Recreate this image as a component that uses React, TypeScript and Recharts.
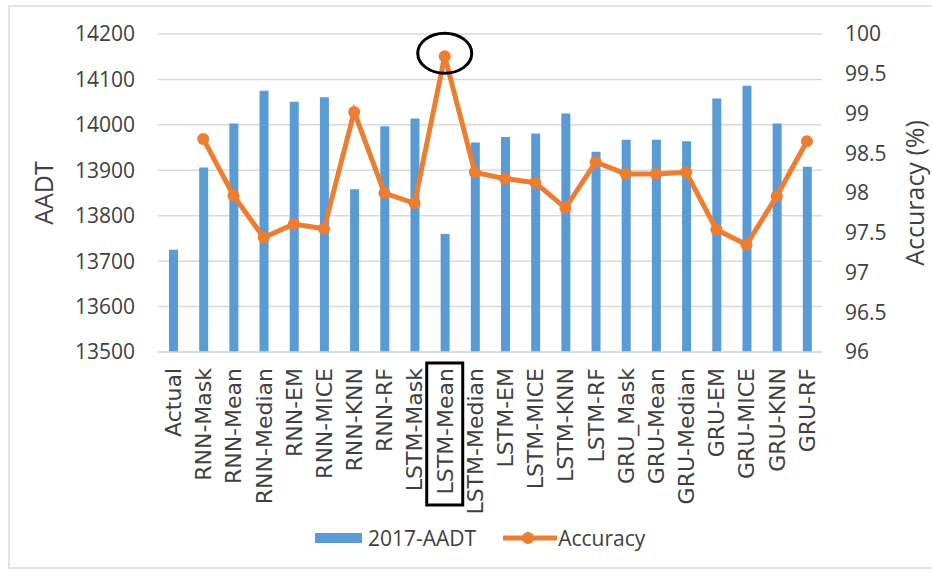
import { Bar, CartesianGrid, ComposedChart, Legend, Line, ReferenceDot, XAxis, YAxis } from 'recharts';

const categories = [
    'Actual', 'RNN-Mask', 'RNN-Mean', 'RNN-Median', 'RNN-EM', 'RNN-MICE', 'RNN-KNN', 'RNN-RF',
    'LSTM-Mask', 'LSTM-Mean', 'LSTM-Median', 'LSTM-EM', 'LSTM-MICE', 'LSTM-KNN', 'LSTM-RF',
    'GRU_Mask', 'GRU-Mean', 'GRU-Median', 'GRU-EM', 'GRU-MICE', 'GRU-KNN', 'GRU-RF',
];
const aadt = [
    13725, 13906, 14003, 14075, 14051, 14061, 13858, 13997, 14014, 13760, 13961,
    13973, 13981, 14025, 13941, 13967, 13967, 13964, 14058, 14086, 14003, 13908,
];
const accuracy = [
    null, 98.68, 97.97, 97.44, 97.61, 97.55, 99.02, 98.0, 97.87, 99.72, 98.26,
    98.18, 98.13, 97.81, 98.39, 98.24, 98.24, 98.26, 97.54, 97.35, 97.96, 98.65,
];
const leftTicks = [13500, 13600, 13700, 13800, 13900, 14000, 14100, 14200];
const rightTicks = [96, 96.5, 97, 97.5, 98, 98.5, 99, 99.5, 100];

const highlighted = 'LSTM-Mean';

const data = categories.map((name, i) => ({ name, aadt: aadt[i], accuracy: accuracy[i] }));

const textColor = '#404040';
const numFont = { fontFamily: 'Open Sans', fontSize: 21, fill: textColor };

// rotated category labels, the highlighted one gets a box around it
function XTick(props: any) {
    const { x, y, payload } = props;
    return (
        <g transform={`translate(${x},${y})`}>
            <text
                transform="rotate(-90)"
                textAnchor="end"
                dy="0.36em"
                fontFamily="DejaVu Sans"
                fontSize={22}
                fill={textColor}
            >
                {payload.value}
            </text>
            {payload.value === highlighted && (
                <rect x={-18} y={-5} width={36} height={142} fill="none" stroke="#000" strokeWidth={3} />
            )}
        </g>
    );
}

function LegendContent() {
    return (
        <div style={{ height: 24, display: 'flex', alignItems: 'center', fontFamily: 'Open Sans', fontSize: 21, color: textColor }}>
            <span style={{ width: 47, height: 10, background: '#5B9BD5', display: 'inline-block' }} />
            <span style={{ marginLeft: 6 }}>2017-AADT</span>
            <svg width={54} height={14} style={{ marginLeft: 27 }}>
                <line x1={0} y1={7} x2={54} y2={7} stroke="#ED7D31" strokeWidth={5} />
                <circle cx={25} cy={7} r={6} fill="#ED7D31" />
            </svg>
            <span style={{ marginLeft: 1 }}>Accuracy</span>
        </div>
    );
}

export default function App() {
    return (
        <div style={{ position: 'absolute', left: 0, top: 0, width: 932, height: 573, background: '#fff' }}>
            <div
                style={{
                    position: 'absolute',
                    left: 8,
                    top: 5,
                    width: 940,
                    height: 564,
                    boxSizing: 'border-box',
                    border: '2px solid #e3e3e3',
                }}
            />
            <div style={{ position: 'absolute', left: 0, top: 0 }}>
                <ComposedChart width={932} height={573} data={data} margin={{ top: 34, right: 0, left: 0, bottom: 23 }}>
                    <CartesianGrid yAxisId="left" vertical={false} stroke="#d9d9d9" strokeWidth={1.5} />
                    <XAxis
                        dataKey="name"
                        interval={0}
                        height={174}
                        tickSize={0}
                        tickMargin={16}
                        axisLine={{ stroke: '#d9d9d9', strokeWidth: 1.5 }}
                        tickLine={false}
                        tick={<XTick />}
                    />
                    <YAxis
                        yAxisId="left"
                        width={158}
                        domain={[13500, 14200]}
                        ticks={leftTicks}
                        axisLine={false}
                        tickLine={false}
                        tickSize={0}
                        tickMargin={23}
                        tick={numFont}
                        label={{
                            content: (p: any) => {
                                const vb = p.viewBox;
                                const cy = vb.y + vb.height / 2;
                                return (
                                    <text x={44} y={cy} transform={`rotate(-90, 44, ${cy})`} textAnchor="middle" dy="0.36em" fontFamily="Open Sans" fontSize={25} fill={textColor}>
                                        AADT
                                    </text>
                                );
                            },
                        }}
                    />
                    <YAxis
                        yAxisId="right"
                        orientation="right"
                        width={110}
                        domain={[96, 100]}
                        ticks={rightTicks}
                        axisLine={false}
                        tickLine={false}
                        tickSize={0}
                        tickMargin={23}
                        tick={numFont}
                        label={{
                            content: (p: any) => {
                                const vb = p.viewBox;
                                const cx = vb.x + 93;
                                const cy = vb.y + vb.height / 2;
                                return (
                                    <text x={cx} y={cy} transform={`rotate(-90, ${cx}, ${cy})`} textAnchor="middle" dy="0.36em" fontFamily="Open Sans" fontSize={25} fill={textColor}>
                                        Accuracy (%)
                                    </text>
                                );
                            },
                        }}
                    />
                    <Legend
                        verticalAlign="bottom"
                        content={<LegendContent />}
                        wrapperStyle={{ left: 315, width: 360, bottom: 23 }}
                    />
                    <Bar yAxisId="left" dataKey="aadt" name="2017-AADT" fill="#5B9BD5" barSize={9} isAnimationActive={false} />
                    <Line
                        yAxisId="right"
                        dataKey="accuracy"
                        name="Accuracy"
                        stroke="#ED7D31"
                        strokeWidth={5}
                        dot={{ r: 6, fill: '#ED7D31', stroke: '#ED7D31', strokeWidth: 0 }}
                        isAnimationActive={false}
                    />
                    <ReferenceDot
                        yAxisId="right"
                        x={highlighted}
                        y={accuracy[categories.indexOf(highlighted)] as number}
                        ifOverflow="visible"
                        shape={(p: any) => (
                            <ellipse cx={p.cx} cy={p.cy - 3} rx={27} ry={20} fill="none" stroke="#000" strokeWidth={3} />
                        )}
                    />
                </ComposedChart>
            </div>
        </div>
    );
}
